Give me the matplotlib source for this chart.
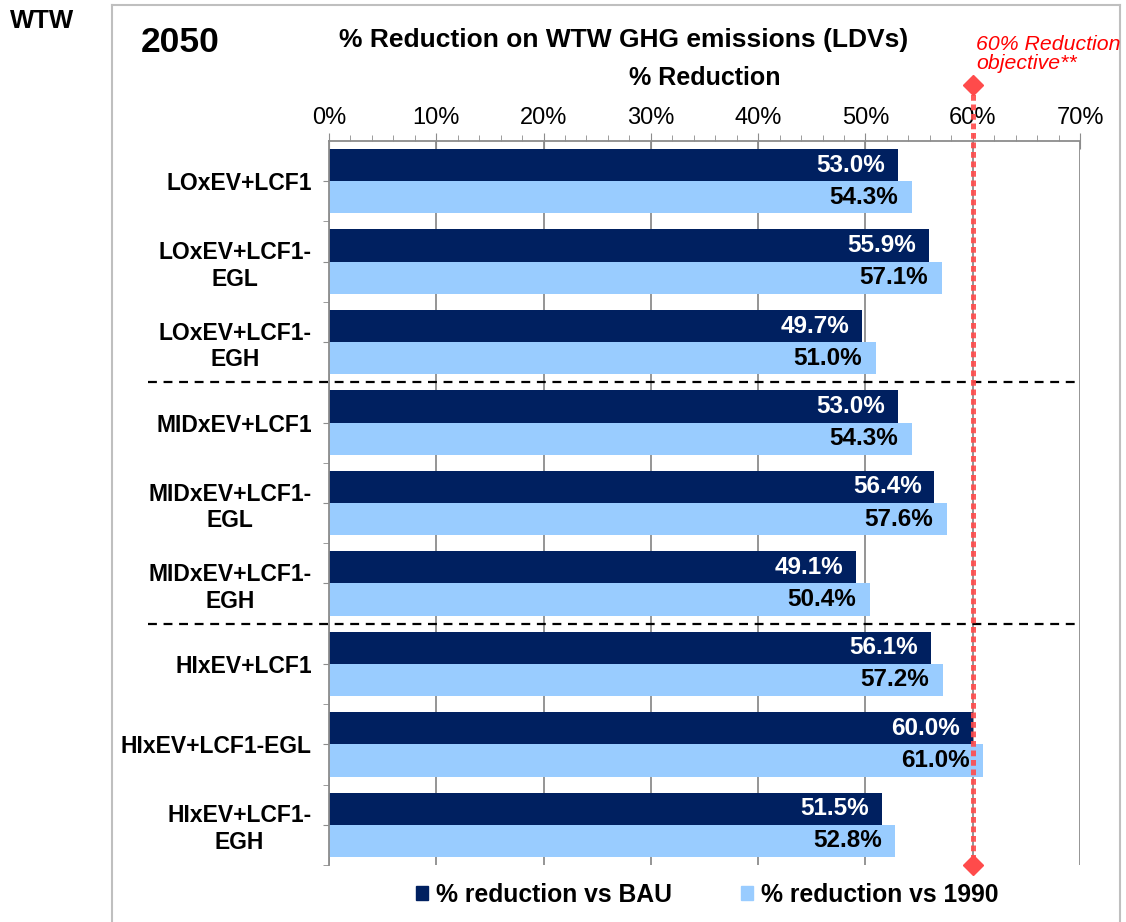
import matplotlib
matplotlib.use("Agg")
import matplotlib.pyplot as plt
from matplotlib.lines import Line2D
from matplotlib.ticker import MultipleLocator, FuncFormatter

plt.rcParams['font.family'] = ['Liberation Sans', 'DejaVu Sans']

categories = ["LOxEV+LCF1", "LOxEV+LCF1-\nEGL", "LOxEV+LCF1-\nEGH",
              "MIDxEV+LCF1", "MIDxEV+LCF1-\nEGL", "MIDxEV+LCF1-\nEGH",
              "HIxEV+LCF1", "HIxEV+LCF1-EGL", "HIxEV+LCF1-\nEGH"]
vs_bau = [53.0, 55.9, 49.7, 53.0, 56.4, 49.1, 56.1, 60.0, 51.5]
vs_1990 = [54.3, 57.1, 51.0, 54.3, 57.6, 50.4, 57.2, 61.0, 52.8]
objective = 60
separators = [2.5, 5.5]

dark = "#002060"
light = "#99CCFF"
red = "#FF4B4B"
grid_c = "#8C8C8C"

W, H = 1126, 922
fig = plt.figure(figsize=(W / 100, H / 100), dpi=100)
ax = fig.add_axes([329 / W, 1 - 865 / H, (1080 - 329) / W, (865 - 141) / H])

y = list(range(len(categories)))
ax.barh([i - 0.2 for i in y], vs_bau, height=0.4, color=dark, zorder=2)
ax.barh([i + 0.2 for i in y], vs_1990, height=0.4, color=light, zorder=2)

for i in y:
    ax.annotate(f"{vs_bau[i]:.1f}%", (vs_bau[i], i - 0.2), xytext=(-9, 0),
                textcoords="offset points", ha="right", va="center",
                color="white", fontsize=17.5, fontweight="bold", zorder=4)
    ax.annotate(f"{vs_1990[i]:.1f}%", (vs_1990[i], i + 0.2), xytext=(-10, 0),
                textcoords="offset points", ha="right", va="center",
                color="black", fontsize=17.5, fontweight="bold", zorder=4)

ax.set_xlim(0, 70)
ax.set_ylim(8.5, -0.5)
ax.xaxis.tick_top()
ax.xaxis.set_major_locator(MultipleLocator(10))
ax.xaxis.set_minor_locator(MultipleLocator(2))
ax.xaxis.set_major_formatter(FuncFormatter(lambda v, p: f"{v:.0f}%"))
ax.tick_params(axis="x", which="major", direction="inout", length=12,
               color=grid_c, labelsize=17, pad=3)
ax.tick_params(axis="x", which="minor", direction="out", length=4, color=grid_c)
ax.grid(axis="x", color=grid_c, linewidth=1.3, zorder=0)
ax.set_axisbelow(True)

ax.set_yticks(y)
ax.set_yticklabels(categories, fontsize=16.5, fontweight="bold", multialignment="center")
ax.set_yticks([i + 0.5 for i in y[:-1]] + [8.5], minor=True)
ax.tick_params(axis="y", which="both", direction="out", length=4.5, color=grid_c, pad=8)

for s in ["right", "bottom"]:
    ax.spines[s].set_visible(False)
for s in ["left", "top"]:
    ax.spines[s].set_color(grid_c)
    ax.spines[s].set_linewidth(1.3)

for sy in separators:
    ax.plot([-16.9, 69.5], [sy, sy], color="black", linestyle=(0, (4, 3)),
            linewidth=1.6, clip_on=False, zorder=3)

ax.plot([objective, objective], [-1.2, 8.5], color=red, linewidth=3.6,
        linestyle=(0, (1.15, 0.75)), alpha=0.9, clip_on=False, zorder=5)
ax.plot([objective, objective], [-1.2, 8.5], linestyle="none", marker="D",
        markersize=10, color=red, clip_on=False, zorder=6)

# outer frame
for xs, ys in [([112, 112], [0, 917]), ([112, 1120], [917, 917]), ([1120, 1120], [917, 0])]:
    fig.add_artist(Line2D([x / W for x in xs], [v / H for v in ys],
                          color="#BFBFBF", linewidth=1.5))

fig.text(10 / W, 1 - 21 / H, "WTW", fontsize=18.5, fontweight="bold", va="center")
fig.text(141 / W, 1 - 43 / H, "2050", fontsize=25.5, fontweight="bold", va="center")
fig.text(624 / W, 1 - 40 / H, "% Reduction on WTW GHG emissions (LDVs)",
         fontsize=19, fontweight="bold", ha="center", va="center")
fig.text(705 / W, 1 - 78 / H, "% Reduction", fontsize=18, fontweight="bold",
         ha="center", va="center")
fig.text(976 / W, 1 - 54 / H, "60% Reduction\nobjective**", fontsize=15.3,
         style="italic", color="#FF0000", va="center", linespacing=1.05)

handles = [plt.Rectangle((0, 0), 1, 1, color=dark), plt.Rectangle((0, 0), 1, 1, color=light)]
fig.legend(handles, ["% reduction vs BAU", "% reduction vs 1990"],
           loc="center", bbox_to_anchor=(707 / W, 1 - 895 / H), ncol=2,
           frameon=False, prop={"size": 17.8, "weight": "bold"},
           handlelength=0.5, handleheight=0.5, handletextpad=0.3, columnspacing=2.8)

fig.savefig("out.png", dpi=100)
